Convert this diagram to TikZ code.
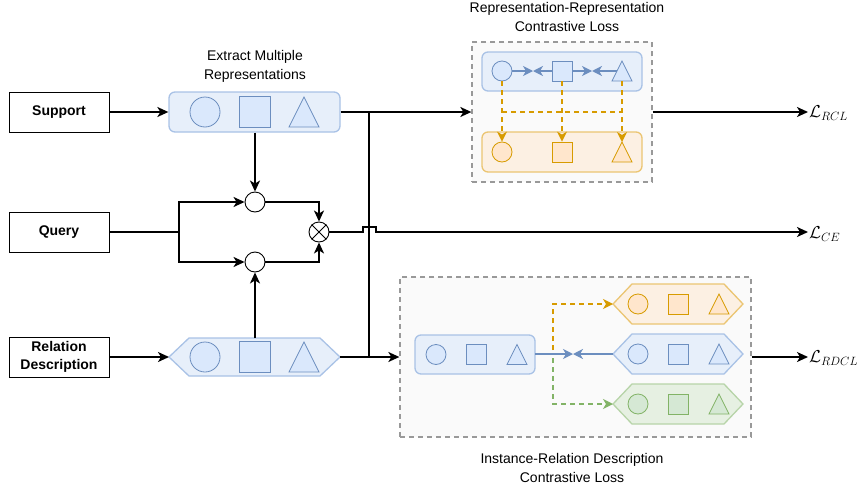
\documentclass[tikz,border=0pt]{standalone}
\usepackage{fontspec}
\setmainfont{Liberation Sans}
\usetikzlibrary{arrows.meta}
\definecolor{bfill}{HTML}{DAE8FC}
\definecolor{bline}{HTML}{6C8EBF}
\definecolor{bboxfill}{HTML}{E7EFFA}
\definecolor{bboxline}{HTML}{A9C2E6}
\definecolor{ofill}{HTML}{FFE6CC}
\definecolor{oline}{HTML}{D79B00}
\definecolor{oboxfill}{HTML}{FCF0E3}
\definecolor{oboxline}{HTML}{EBC572}
\definecolor{gfill}{HTML}{D5E8D4}
\definecolor{gline}{HTML}{82B366}
\definecolor{gboxfill}{HTML}{E6F0E2}
\definecolor{gboxline}{HTML}{B7D4A8}
\definecolor{dgray}{HTML}{999999}
\definecolor{dfill}{HTML}{FAFAFA}
\newcommand{\trishape}[4]{\draw[#4] (#1,#2) ++(-#3,#3) -- ++(#3,{-2*#3}) -- ++(#3,{2*#3}) -- cycle;}
\begin{document}
\begin{tikzpicture}[x=1pt,y=-1pt,
  font=\fontsize{14}{18}\selectfont,
  inbox/.style={draw=black, line width=1pt, minimum width=100pt, minimum height=40pt, inner sep=1pt, align=center, font=\fontsize{14}{18}\selectfont\bfseries},
  arr/.style={line width=1.7pt, -{Stealth[length=11pt,width=10pt,inset=3pt]}},
  ln/.style={line width=1.7pt},
  sc/.style={draw=black, line width=0.9pt, fill=white, circle, minimum size=20pt, inner sep=0pt},
  bbox/.style={draw=bboxline, fill=bboxfill, line width=1.3pt, rounded corners=6pt},
  obox/.style={draw=oboxline, fill=oboxfill, line width=1.3pt, rounded corners=6pt},
  gbox/.style={draw=gboxline, fill=gboxfill, line width=1.3pt},
  bsh/.style={draw=bline, fill=bfill, line width=0.8pt},
  osh/.style={draw=oline, fill=ofill, line width=0.8pt},
  gsh/.style={draw=gline, fill=gfill, line width=0.8pt},
  bcirc/.style={bsh, circle, inner sep=0pt},
  ocirc/.style={osh, circle, inner sep=0pt},
  gcirc/.style={gsh, circle, inner sep=0pt},
  bsq/.style={bsh, rectangle, inner sep=0pt},
  osq/.style={osh, rectangle, inner sep=0pt},
  gsq/.style={gsh, rectangle, inner sep=0pt},
  dbox/.style={draw=dgray, fill=dfill, line width=1.3pt, dash pattern=on 5pt off 4pt, inner sep=0pt},
  barr/.style={draw=bline, line width=1.4pt, -{Stealth[length=10pt,width=10pt,inset=3pt]}},
  oarr/.style={draw=oline, line width=1.4pt, dash pattern=on 5pt off 4pt, -{Stealth[length=10pt,width=10pt,inset=3pt]}},
  odash/.style={draw=oline, line width=1.4pt, dash pattern=on 5pt off 4pt},
  garr/.style={draw=gline, line width=1.4pt, dash pattern=on 5pt off 4pt, -{Stealth[length=10pt,width=10pt,inset=3pt]}},
  title/.style={align=center, font=\fontsize{14}{19}\selectfont},
  lossl/.style={anchor=west, inner sep=1pt, font=\fontsize{17}{20}\selectfont}
]
\useasboundingbox (0,0) rectangle (857,490);

% input boxes
\node[inbox] (support) at (59,112) {Support};
\node[inbox] (query) at (59,232) {Query};
\node[inbox] (reldesc) at (59,357) {Relation\\Description};

% extract box
\node[title] (exttitle) at (255,66) {Extract Multiple\\Representations};
\node[bbox, minimum width=171pt, minimum height=40pt] (extract) at (254.5,112) {};
\node[bcirc, minimum size=30pt] (ec) at (205,112) {};
\node[bsq, minimum size=31pt] (es) at (254.5,112) {};
\trishape{304}{112}{15}{bsh}

% relation hexagon
\draw[bsh, draw=bboxline, fill=bboxfill, line width=1.3pt] (169,357) -- (189,338) -- (320,338) -- (340,357) -- (320,376) -- (189,376) -- cycle;
\coordinate (hexR) at (340,357);
\coordinate (hexT) at (255,338);
\node[bcirc, minimum size=30pt] (hc) at (205,357) {};
\node[bsq, minimum size=31pt] (hs) at (254.5,357) {};
\trishape{304}{357}{15}{bsh}

% small circles
\node[sc] (c1) at (255,202) {};
\node[sc] (c2) at (255,262) {};
\node[sc] (ot) at (319,232) {};
\draw[line width=0.9pt] (ot.north east) -- (ot.south west) (ot.north west) -- (ot.south east);

% connectors left part
\draw[arr] (support) -- (extract);
\draw[arr] (reldesc) -- (169,357);
\coordinate (qs) at (179,232);
\draw[ln] (query) -- (qs);
\draw[arr] (qs) |- (c1);
\draw[arr] (qs) |- (c2);
\draw[arr] (extract.south -| c1) -- (c1);
\draw[arr] (hexT) -- (c2);
\draw[arr] (c1) -| (ot.north);
\draw[arr] (c2) -| (ot.south);

% RCL box
\node[title] (rcltitle) at (567,17) {Representation-Representation\\Contrastive Loss};
\node[dbox, minimum width=180pt, minimum height=140pt] (rclbox) at (562,112) {};
\draw[bbox] (482,52) rectangle (642,91);
\draw[obox] (482,132) rectangle (642,172);
\node[bcirc, minimum size=20pt] (rc1) at (502,71) {};
\node[bsq, minimum size=20pt] (rs1) at (562,71) {};
\trishape{622}{71}{10}{bsh}
\node[ocirc, minimum size=20pt] (rc2) at (502,152) {};
\node[osq, minimum size=20pt] (rs2) at (562,152) {};
\trishape{622}{152}{10}{osh}
\coordinate (rt1L) at (617,71);
\coordinate (rt1B) at (622,81);
\coordinate (rt2T) at (622,142);
\coordinate (m1) at (533,71);
\coordinate (m2) at (592,71);
\draw[barr] (rc1) -- (m1);
\draw[barr] (rs1) -- (m1);
\draw[barr] (rs1) -- (m2);
\draw[barr] (rt1L) -- (m2);
\draw[odash] (502,112) -- (622,112);
\draw[oarr] (rc1) -- (rc2);
\draw[oarr] (rs1) -- (rs2);
\draw[oarr] (rt1B) -- (rt2T);

% RDCL box
\node[title] (rdcltitle) at (572,468) {Instance-Relation Description\\Contrastive Loss};
\node[dbox, minimum width=351pt, minimum height=160pt] (rdclbox) at (575.5,357) {};
\draw[bbox] (415,335) rectangle (535,374);
\node[bcirc, minimum size=20pt] (lc) at (436,354.5) {};
\node[bsq, minimum size=20pt] (ls) at (476,354.5) {};
\trishape{517}{354.5}{10}{bsh}
% hexagons
\draw[obox, rounded corners=0pt] (613,304) -- (632,284) -- (724,284) -- (743,304) -- (724,324) -- (632,324) -- cycle;
\draw[bbox, rounded corners=0pt] (613,354) -- (632,334) -- (724,334) -- (743,354) -- (724,374) -- (632,374) -- cycle;
\draw[gbox] (613,404) -- (632,384) -- (724,384) -- (743,404) -- (724,424) -- (632,424) -- cycle;
\coordinate (ohL) at (613,304);
\coordinate (bhL) at (613,354);
\coordinate (ghL) at (613,404);
\node[ocirc, minimum size=20pt] (oc) at (638,304) {};
\node[osq, minimum size=20pt] (os) at (678,304) {};
\trishape{719}{304}{10}{osh}
\node[bcirc, minimum size=20pt] (bc) at (638,354) {};
\node[bsq, minimum size=20pt] (bs) at (678,354) {};
\trishape{719}{354}{10}{bsh}
\node[gcirc, minimum size=20pt] (gc) at (638,404) {};
\node[gsq, minimum size=20pt] (gs) at (678,404) {};
\trishape{719}{404}{10}{gsh}
\coordinate (lboxR) at (535,354);
\coordinate (m3) at (573,354);
\coordinate (dsp) at (553,350);
\coordinate (dsp2) at (553,358);
\draw[barr] (lboxR) -- (m3);
\draw[barr] (bhL) -- (m3);
\draw[oarr] (dsp) |- (ohL);
\draw[garr] (dsp2) |- (ghL);

% right connectors
\coordinate (vtop) at (369,112);
\coordinate (vbot) at (369,357);
\draw[arr] (extract.east) -- (rclbox.west);
\draw[arr] (hexR) -- (rdclbox.west);
\draw[ln] (vtop) -- (vbot);

\node[lossl] (lrcl) at (808,113) {$\mathcal{L}_{RCL}$};
\node[lossl] (lce) at (808,234) {$\mathcal{L}_{CE}$};
\node[lossl] (lrdcl) at (808,358) {$\mathcal{L}_{RDCL}$};
\draw[arr] (rclbox.east |- 0,112) -- (lrcl.west |- 0,112);
\draw[arr] (rdclbox.east) -- (lrdcl.west |- 0,357);
\draw[arr, line join=miter] (ot.east) -- (363,232) -- (363,227) -- (376,227) -- (376,232) -- (lce.west |- 0,232);
\end{tikzpicture}
\end{document}
